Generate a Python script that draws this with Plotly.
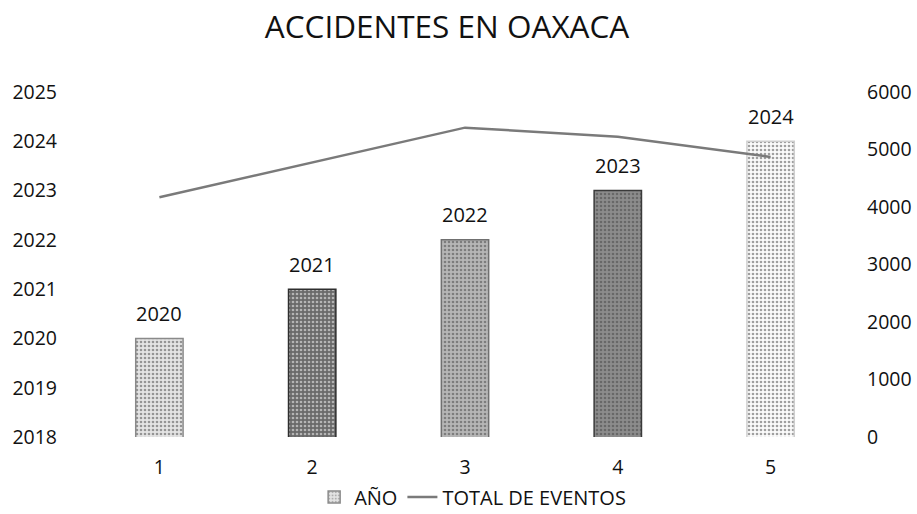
import plotly.graph_objects as go

categories = [1, 2, 3, 4, 5]
anio = [2020, 2021, 2022, 2023, 2024]
total_eventos = [4170, 4770, 5380, 5220, 4870]
left_ticks = [2018, 2019, 2020, 2021, 2022, 2023, 2024, 2025]
right_ticks = [0, 1000, 2000, 3000, 4000, 5000, 6000]

bar_colors = ["#e4e4e4", "#6a6a6a", "#b6b6b6", "#8c8c8c", "#fbfbfb"]
bar_fg = ["#7a7a7a", "#202020", "#666666", "#333333", "#bdbdbd"]
bar_line = ["#8a8a8a", "#2e2e2e", "#707070", "#3a3a3a", "#cfcfcf"]

FONT = "Open Sans"

fig = go.Figure()
fig.add_trace(go.Bar(
    x=categories, y=anio, name="AÑO",
    width=0.31,
    marker=dict(color=bar_colors,
                line=dict(color=bar_line, width=1.5),
                pattern=dict(shape=".", fgcolor=bar_fg, size=4, solidity=0.35)),
    yaxis="y",
))
fig.add_trace(go.Scatter(
    x=categories, y=total_eventos, name="TOTAL DE EVENTOS",
    mode="lines",
    line=dict(color="#7a7a7a", width=2.5),
    yaxis="y2",
))

for c, v in zip(categories, anio):
    fig.add_annotation(x=c, y=v, xref="x", yref="y", text=str(v), showarrow=False,
                       yshift=25, font=dict(family=FONT, size=20, color="#111111"))

fig.update_layout(
    width=917, height=514,
    paper_bgcolor="white", plot_bgcolor="white",
    margin=dict(l=83, r=70, t=92, b=77, autoexpand=False),
    title=dict(text="ACCIDENTES EN OAXACA", x=0.4875, xanchor="center", y=0.947, yanchor="middle",
               font=dict(family=FONT, size=31.5, color="#111111")),
    font=dict(family=FONT, size=19.5, color="#111111"),
    xaxis=dict(tickvals=categories, ticktext=[str(c) for c in categories],
               range=[0.5, 5.5], showgrid=False, zeroline=False, showline=False,
               ticks="", ticklabelstandoff=16, tickfont=dict(size=19.5)),
    yaxis=dict(range=[2018, 2025], tickvals=left_ticks, showgrid=False, zeroline=False,
               showline=False, ticks="", ticklabelstandoff=25, tickformat="d",
               tickfont=dict(size=19.5)),
    yaxis2=dict(range=[0, 6000], tickvals=right_ticks, overlaying="y", side="right",
                showgrid=False, zeroline=False, showline=False, ticks="",
                ticklabelstandoff=19, tickformat="d", tickfont=dict(size=19.5)),
    legend=dict(orientation="h", x=0.51, xanchor="center", y=-0.174, yanchor="middle",
                font=dict(family=FONT, size=20, color="#111111")),
    bargap=0.69,
    showlegend=True,
)

fig.write_html("out.html", config={"displayModeBar": False},
               post_script="document.body.style.margin='0';document.body.style.overflow='hidden';")
